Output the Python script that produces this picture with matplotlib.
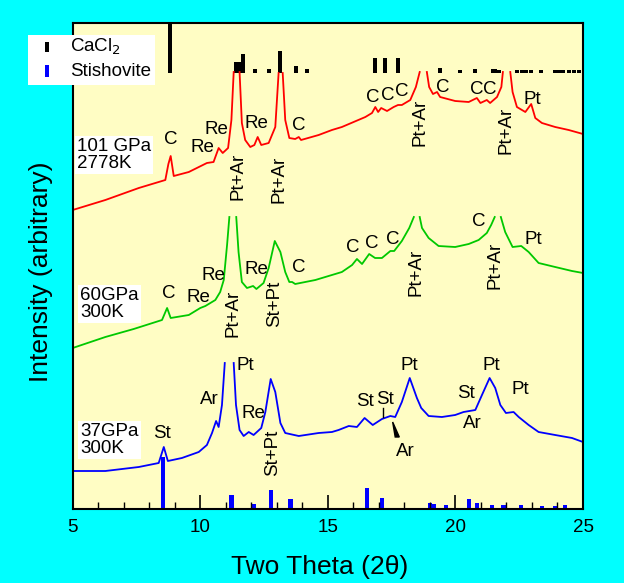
import numpy as np
import matplotlib
matplotlib.use("Agg")
import matplotlib.pyplot as plt
from matplotlib.patches import Rectangle, Polygon

plt.rcParams['font.family'] = ['Liberation Sans', 'DejaVu Sans']

nan = np.nan
# ---- patterns (two theta, intensity in arbitrary units) ----
red_x = [5.0, 6.28, 7.59, 8.63, 8.75, 8.84, 8.96, 9.55, 10.26, 10.52, 10.72, 10.88, 11.09, 11.22, 11.31, nan,
         11.54, 11.63, 11.76, 11.96, 12.12, 12.25, 12.39, 12.68, 12.94, 13.07, nan,
         13.23, 13.33, 13.49, 13.72, 13.86, 13.95, 14.64, 15.16, 15.55, 16.47, 16.73, 16.86, 16.97, 17.09,
         17.32, 17.58, 17.75, 17.9, 18.23, 18.45, 18.60, nan,
         18.88, 18.97, 19.12, 19.28, 19.40, 19.99, 20.52, 20.84, 20.98, 21.23, 21.36, 21.63, 21.80, 21.86, nan,
         22.15, 22.24, 22.41, 22.74, 22.97, 23.13, 23.39, 23.91, 24.44, 25.0]
red_y = [299, 309, 321, 329, 345, 353, 333, 337, 346, 347, 361, 356, 361, 389, 437, nan,
         437, 386, 369, 362, 364, 372, 364, 366, 382, 436, nan,
         436, 389, 371, 370, 372, 369, 374, 379, 382, 392, 396, 402, 397, 401,
         398, 402, 404, 404, 409, 422, 437, nan,
         437, 422, 415, 417, 412, 408, 407, 411, 406, 409, 406, 412, 422, 437, nan,
         437, 417, 402, 397, 405, 391, 386, 382, 379, 375]

green_x = [5.0, 6.28, 7.39, 8.50, 8.70, 8.84, 9.55, 10.0, 10.2, 10.59, 10.78, 10.92, 11.05, 11.14, nan,
           11.41, 11.50, 11.63, 11.83, 12.07, 12.2, 12.48, 12.68, 12.92, 13.14, 13.33, 13.49, 13.6,
           13.72, 14.51, 15.16, 15.55, 15.95, 16.14, 16.34, 16.62, 16.85, 17.12, 17.45, 17.6, 17.90,
           18.19, 18.37, nan,
           18.60, 18.69, 18.95, 19.34, 19.99, 20.52, 20.91, 21.23, 21.40, 21.54, nan,
           21.78, 21.95, 22.24, 22.58, 22.87, 23.26, 23.91, 24.57, 25.0]
green_y = [161, 172, 180, 189, 201, 191, 194, 201, 203, 209, 217, 229, 264, 292, nan,
           292, 257, 227, 221, 223, 220, 226, 241, 268, 257, 237, 227, 227,
           225, 229, 234, 237, 244, 250, 245, 255, 251, 251, 258, 258, 268,
           281, 292, nan,
           292, 281, 271, 263, 262, 265, 269, 276, 284, 292, nan,
           292, 277, 262, 263, 257, 246, 242, 238, 236]

blue_x = [5.0, 6.28, 7.59, 8.37, 8.57, 8.73, 9.28, 9.94, 10.26, 10.46, 10.62, 10.72, 10.85, 10.96, nan,
          11.31, 11.40, 11.54, 11.70, 11.90, 12.09, 12.39, 12.55, 12.76, 12.94, 13.14, 13.33, 13.86,
          14.64, 15.16, 15.42, 15.82, 16.14, 16.44, 16.76, 17.12, 17.45, 17.64, 17.90, 18.21, 18.49,
          18.66, 18.95, 19.47, 19.99, 20.32, 20.78, 21.04, 21.34, 21.56, 21.76, 21.98, 22.28, 22.48,
          22.87, 23.26, 23.91, 24.57, 25.0]
blue_y = [38, 38, 42, 46, 62, 48, 51, 57, 64, 76, 88, 82, 104, 146, nan,
          146, 104, 79, 73, 77, 74, 81, 97, 130, 117, 86, 76, 73,
          76, 77, 79, 83, 82, 91, 84, 90, 93, 92, 107, 131, 111,
          101, 93, 92, 94, 97, 99, 114, 131, 121, 104, 96, 97, 92,
          84, 77, 74, 71, 67]

# ---- reference reflections ----
cacl2_pos = [8.80, 11.42, 11.52, 11.66, 12.16, 12.68, 13.14, 13.75, 14.18, 16.86, 17.25, 17.75,
             19.40, 20.19, 20.78, 21.46, 21.55, 21.69, 22.41, 22.62, 22.78, 22.95, 23.35,
             23.9, 24.05, 24.2, 24.45, 24.65, 24.85]
cacl2_int = [55, 11, 11, 19, 4, 4, 22, 7, 4, 15, 15, 15,
             5, 3, 4, 4, 4, 3, 3, 3, 3, 3, 3,
             3, 3, 3, 3, 3, 3]
stish_pos = [8.53, 11.22, 12.09, 12.76, 13.53, 16.53, 17.12, 19.01, 19.15, 19.63, 20.52, 20.84,
             21.43, 21.89, 22.58, 23.39, 23.91, 24.30]
stish_int = [52, 14, 5, 19, 10, 21, 11, 6, 5, 4, 10, 6,
             4, 4, 4, 3, 3, 4]

# ---- peak labels: (text, two theta, intensity, rotation) ----
red_labels = [("C", 8.86, 370, 0), ("Re", 10.07, 362, 0), ("Re", 10.65, 380, 0), ("Pt+Ar", 11.47, 333, 90),
              ("Re", 12.22, 385, 0), ("Pt+Ar", 13.07, 330, 90), ("C", 13.86, 383, 0),
              ("C", 16.76, 412, 0), ("C", 17.33, 414, 0), ("C", 17.88, 417, 0), ("Pt+Ar", 18.62, 387, 90),
              ("C", 19.51, 422, 0), ("C", 20.84, 419, 0), ("C", 21.36, 419, 0), ("Pt+Ar", 21.98, 379, 90),
              ("Pt", 23.02, 409, 0)]
green_labels = [("C", 8.76, 216, 0), ("Re", 9.91, 211, 0), ("Re", 10.52, 234, 0), ("Pt+Ar", 11.27, 196, 90),
                ("Re", 12.22, 240, 0), ("St+Pt", 12.92, 205, 90), ("C", 13.86, 241, 0),
                ("C", 15.98, 262, 0), ("C", 16.73, 266, 0), ("C", 17.54, 269, 0), ("Pt+Ar", 18.47, 237, 90),
                ("C", 20.91, 287, 0), ("Pt+Ar", 21.56, 244, 90), ("Pt", 23.04, 270, 0)]
blue_labels = [("St", 8.50, 75, 0), ("Ar", 10.35, 110, 0), ("Pt", 11.76, 144, 0), ("Re", 12.09, 96, 0),
               ("St+Pt", 12.85, 56, 90), ("St", 16.47, 107, 0), ("St", 17.23, 109, 0), ("Ar", 18.03, 57, 0),
               ("Pt", 18.19, 143, 0), ("St", 20.43, 115, 0), ("Ar", 20.65, 85, 0), ("Pt", 21.40, 143, 0),
               ("Pt", 22.54, 119, 0)]

sample_labels = ["101 GPa\n2778K", "60GPa\n300K", "37GPa\n300K"]
legend_labels = ["CaCl$_2$", "Stishovite"]

W, H = 624, 583
fig = plt.figure(figsize=(W / 100, H / 100), dpi=100, facecolor='#00FFFF')

def fx(px):
    return px / W

def fy(py):
    return 1 - py / H

ax = fig.add_axes([fx(72.7), fy(509), (583 - 72.7) / W, (509 - 23) / H])
ax.set_facecolor('#FFFDC4')
ax.set_xlim(5, 25)
ax.set_ylim(0, 486)

lw = 1.3
ax.plot(red_x, red_y, color='#FF0000', lw=lw)
ax.plot(green_x, green_y, color='#00C800', lw=lw)
ax.plot(blue_x, blue_y, color='#0000FF', lw=lw)

ax.bar(cacl2_pos, cacl2_int, bottom=436, width=0.16, color='black', align='center')
ax.bar(stish_pos, stish_int, bottom=0, width=0.17, color='#0000FF', align='center')

fs = 13.5
for labels in (red_labels, green_labels, blue_labels):
    for t, x, y, r in labels:
        ax.text(x, y, t, rotation=r, ha='center', va='center', fontsize=fs, color='black')

# marker line and arrow in the blue pattern
ax.plot([17.15, 17.15], [92, 101], color='black', lw=1)
ax.add_patch(Polygon([[17.54, 87], [17.64, 72], [17.80, 72]], closed=True, color='black'))

# sample labels with white boxes
for txt, (px, py) in zip(sample_labels, [(77, 155), (80, 304), (80, 440)]):
    fig.text(fx(px), fy(py), txt, ha='left', va='center', fontsize=fs, linespacing=1.0,
             bbox=dict(facecolor='white', edgecolor='none', pad=1.5))

# legend box
fig.patches.append(Rectangle((fx(28), fy(85)), (155 - 28) / W, (85 - 35) / H,
                             transform=fig.transFigure, facecolor='white', edgecolor='none', zorder=5))
fig.patches.append(Rectangle((fx(45), fy(52)), 4 / W, 10 / H, transform=fig.transFigure,
                             facecolor='black', edgecolor='none', zorder=6))
fig.patches.append(Rectangle((fx(45), fy(77)), 4 / W, 12 / H, transform=fig.transFigure,
                             facecolor='#0000FF', edgecolor='none', zorder=6))
fig.text(fx(70), fy(47), legend_labels[0], ha='left', va='center', fontsize=fs, zorder=7)
fig.text(fx(70), fy(72), legend_labels[1], ha='left', va='center', fontsize=fs, zorder=7)

# axes styling
ax.set_yticks([])
ax.set_xticks([5, 10, 15, 20, 25])
ax.set_xticks(np.arange(5, 26, 1), minor=True)
ax.tick_params(axis='x', which='major', direction='in', length=10, width=1.2, labelsize=13.5, pad=7)
ax.tick_params(axis='x', which='minor', direction='in', length=5, width=1.0)
for s in ax.spines.values():
    s.set_linewidth(1.5)

fig.text(fx(320), fy(567), "Two Theta (2\u03b8)", ha='center', va='center', fontsize=19)
fig.text(fx(41), fy(272), "Intensity (arbitrary)", ha='center', va='center', fontsize=19, rotation=90)

fig.savefig("out.png", dpi=100, facecolor=fig.get_facecolor())
